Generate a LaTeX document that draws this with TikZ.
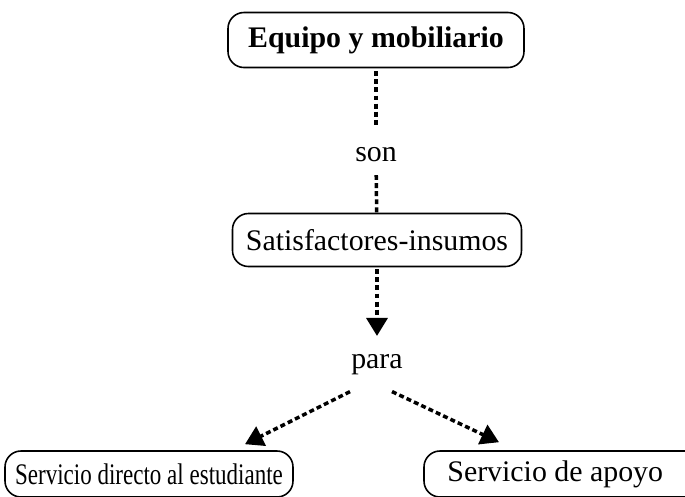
\documentclass[tikz,border=0pt]{standalone}
\usepackage{fontspec}
\setmainfont{Liberation Serif}
\usepackage{tikz}
\usetikzlibrary{arrows.meta,shapes,positioning}
\tikzstyle{dotline} = [line width=2pt,dash pattern=on 2.8pt off 1.8pt]
\tikzstyle{arrow} = [dotline,-{Triangle[width=0.42cm,length=0.36cm]}]
\tikzstyle{concept} = [rectangle, rounded corners=0.32cm, draw=black, line width=0.9pt, minimum height=1.06cm, text centered, inner sep=2pt]
\tikzstyle{linkword} = [inner sep=2pt]

\begin{document}
\begin{tikzpicture}[font=\fontsize{17}{20}\selectfont]
\useasboundingbox (0,0) rectangle (13.7,-9.92);
% Concepts
\node (equipo) [concept, minimum width=5.92cm, minimum height=1.1cm, font=\fontsize{17}{20}\selectfont\bfseries] at (7.52,-0.80) {Equipo y mobiliario};
\node (son) [linkword] at (7.52,-3.10) {son};
\node (satis) [concept, minimum width=5.78cm] at (7.54,-4.80) {Satisfactores-insumos};
\node (para) [linkword] at (7.54,-7.30) {para};
\node (sdir) [concept, minimum width=5.76cm, minimum height=0.92cm] at (2.98,-9.48) {\scalebox{0.77}[1]{Servicio directo al estudiante}};
\node (sapo) [concept, minimum width=5.6cm, minimum height=0.92cm] at (11.28,-9.48) {\hspace*{-0.35cm}Servicio de apoyo};

% Connections
\draw[dotline, shorten <=0.06cm, shorten >=0.36cm] (equipo) -- (son);
\draw[dotline, shorten <=0.18cm] (son) -- (satis);
\draw[arrow, shorten <=0.04cm, shorten >=0.3cm] (satis) -- (para.north);
\draw[arrow] ([xshift=-0.54cm,yshift=-0.25cm]para.south) -- ([xshift=1.92cm,yshift=0.12cm]sdir.north);
\draw[arrow] ([xshift=0.30cm,yshift=-0.25cm]para.south) -- ([xshift=-1.30cm,yshift=0.16cm]sapo.north);
\end{tikzpicture}
\end{document}
